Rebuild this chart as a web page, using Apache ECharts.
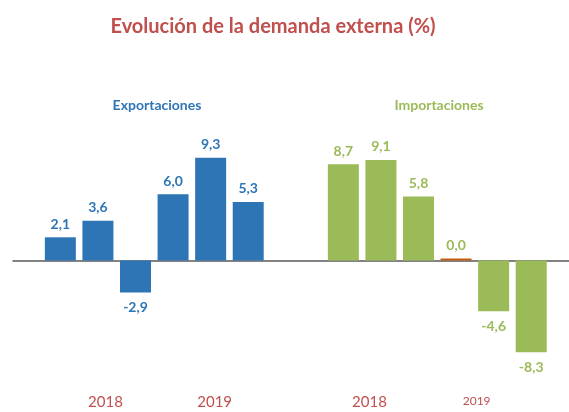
<!DOCTYPE html>
<html>
<head>
<meta charset="utf-8">
<script src="https://cdn.jsdelivr.net/npm/echarts@6/dist/echarts.min.js"></script>
<style>
  html, body { margin: 0; padding: 0; background: #fff; }
  #chart { width: 569px; height: 412px; }
</style>
</head>
<body>
<div id="chart"></div>
<script>
// values
const exportValues = [2.1, 3.6, -2.9, 6.0, 9.3, 5.3]
const importValues = [8.7, 9.1, 5.8, 0.0, -4.6, -8.3]
const exportYears = ['', '', '2018', '', '', '2019', '']
const importYears = ['', '', '2018', '', '', '2019', '']

const BLUE = '#2e75b6'
const GREEN = '#9bbb59'
const RED = '#c0504d'
const ZERO_BAR = '#c55a11'
const FONT = 'Lato, "Open Sans", sans-serif'

// first slot of each group stays empty
const pad = (arr) => ['-'].concat(arr)

const fmt = (v) => v.toFixed(1).replace('.', ',')

const barData = (values) => pad(values).map(v => {
    if (v === '-') return v
    return {
        value: v,
        label: { position: v < 0 ? 'bottom' : 'top', distance: v < 0 ? 8 : 6 }
    }
})

// small nudges so the year labels sit where the original has them
const yearAxis = (years, gridIndex, rich) => ({
    type: 'category',
    gridIndex: gridIndex,
    data: years,
    axisLine: { show: false, onZero: false },
    axisTick: { show: false },
    axisLabel: {
        interval: 0,
        margin: 24,
        formatter: (v, i) => v ? '{y' + i + '|' + v + '}' : '',
        rich: rich
    }
})

const yearStyle = { color: RED, fontFamily: FONT, fontSize: 15 }

const valueAxis = (gridIndex) => ({
    type: 'value',
    gridIndex: gridIndex,
    min: -10,
    max: 10,
    show: false
})

const gridBox = { top: 150, bottom: 41 }

const option = {
    animation: false,
    backgroundColor: '#fff',
    title: [
        {
            text: 'Evolución de la demanda externa (%)',
            left: 268, top: 12, textAlign: 'center',
            textStyle: { color: RED, fontFamily: FONT, fontSize: 20, fontWeight: 'bold' }
        },
        {
            text: 'Exportaciones',
            left: 152, top: 93, textAlign: 'center',
            textStyle: { color: BLUE, fontFamily: FONT, fontSize: 14, fontWeight: 'bold' }
        },
        {
            text: 'Importaciones',
            left: 434, top: 93, textAlign: 'center',
            textStyle: { color: GREEN, fontFamily: FONT, fontSize: 14, fontWeight: 'bold' }
        }
    ],
    grid: [
        { left: 4, width: 263, ...gridBox },
        { left: 287, width: 263, ...gridBox },
        // only carries the zero line with its two ticks
        { left: 13, right: -10, ...gridBox }
    ],
    xAxis: [
        yearAxis(exportYears, 0, {
            y2: { ...yearStyle, padding: [0, 0, 0, 15] },
            y5: { ...yearStyle, padding: [0, 0, 0, 8] }
        }),
        yearAxis(importYears, 1, {
            y2: { ...yearStyle, padding: [0, 23, 0, 0] },
            y5: { ...yearStyle, fontSize: 12, padding: [0, 34, 0, 0] }
        }),
        {
            type: 'category',
            gridIndex: 2,
            data: ['', ''],
            axisLine: { lineStyle: { color: '#595959', width: 1.5 } },
            axisTick: { length: 4, lineStyle: { color: '#404040', width: 1.5 } },
            axisLabel: { show: false }
        }
    ],
    yAxis: [valueAxis(0), valueAxis(1), valueAxis(2)],
    series: [
        {
            name: 'Exportaciones',
            type: 'bar',
            xAxisIndex: 0,
            yAxisIndex: 0,
            barWidth: 31,
            itemStyle: { color: BLUE },
            label: {
                show: true,
                color: BLUE,
                fontFamily: FONT,
                fontSize: 14,
                fontWeight: 'bold',
                formatter: (p) => fmt(p.value)
            },
            data: barData(exportValues)
        },
        {
            name: 'Importaciones',
            type: 'bar',
            xAxisIndex: 1,
            yAxisIndex: 1,
            barWidth: 31,
            barMinHeight: 2,
            itemStyle: { color: (p) => p.value === 0 ? ZERO_BAR : GREEN },
            label: {
                show: true,
                color: GREEN,
                fontFamily: FONT,
                fontSize: 14,
                fontWeight: 'bold',
                formatter: (p) => fmt(p.value)
            },
            data: barData(importValues)
        }
    ]
}

const myChart = echarts.init(document.getElementById('chart'))
myChart.setOption(option)
</script>
</body>
</html>
